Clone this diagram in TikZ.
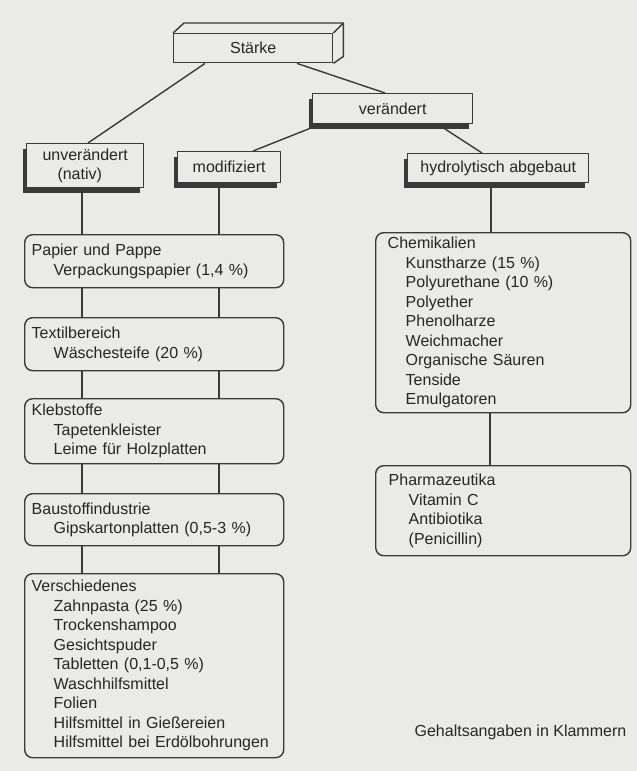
\documentclass[tikz,border=0pt]{standalone}
\usepackage{fontspec}
\setmainfont{Liberation Sans}
\usetikzlibrary{calc,shadows}
\definecolor{bg}{RGB}{234,234,230}
\definecolor{ink}{RGB}{58,58,58}
\definecolor{txt}{RGB}{38,38,38}
\newcommand\myind{\hspace*{22pt}}
\newcommand\myindb{\hspace*{18pt}}
\begin{document}
\begin{tikzpicture}[x=1pt,y=-1pt,
  font=\fontsize{16pt}{19.5pt}\selectfont,
  line width=1.4pt, line join=round,
  topbox/.style={draw=ink, fill=bg, text=txt, inner sep=0pt, anchor=north west},
  shadowed/.style={drop shadow={shadow xshift=-4pt, shadow yshift=-5pt, fill=ink, opacity=1}},
  cbox/.style={draw=ink, fill=bg, text=txt, rounded corners=8pt, anchor=north west,
    align=left, inner ysep=0pt},
  conn/.style={draw=ink}]
\fill[bg] (0,0) rectangle (637,771);
\useasboundingbox (0,0) rectangle (637,771);

% top boxes
\node[topbox, minimum width=159pt, minimum height=29pt] (st) at (173,33) {Stärke};
\draw[ink] (st.north west) -- ++(11,-10) -- ($(st.north east)+(10,-10)$)
  -- ($(st.south east)+(10,-7)$) -- (st.south east);
\draw[ink] (st.north east) -- ++(10,-10);

\node[topbox, shadowed, minimum width=160pt, minimum height=30pt] (ver) at (312,93) {verändert};
\node[topbox, shadowed, minimum width=117pt, minimum height=44pt, align=left] (unv) at (26,143)
  {unverändert\\\hspace*{15pt}(nativ)};
\node[topbox, shadowed, minimum width=103pt, minimum height=31pt] (mod) at (177,151) {modifiziert};
\node[topbox, shadowed, minimum width=181pt, minimum height=29pt] (hyd) at (407,153) {hydrolytisch abgebaut};

% content boxes left
\node[cbox, inner xsep=7pt, text width=245pt, minimum height=53pt] (pap) at (24,234)
  {Papier und Pappe\\\myind Verpackungspapier (1,4~\%)};
\node[cbox, inner xsep=7pt, text width=245pt, minimum height=53pt] (tex) at (24,317)
  {Textilbereich\\\myind Wäschesteife (20~\%)};
\node[cbox, inner xsep=7pt, text width=245pt, minimum height=65pt] (kle) at (24,398)
  {Klebstoffe\\\myind Tapetenkleister\\\myind Leime für Holzplatten};
\node[cbox, inner xsep=7pt, text width=245pt, minimum height=52pt] (bau) at (24,493)
  {Baustoffindustrie\\\myind Gipskartonplatten (0,5-3~\%)};
\node[cbox, inner xsep=7pt, text width=245pt, minimum height=184pt] (vsch) at (24,573)
  {Verschiedenes\\\myind Zahnpasta (25~\%)\\\myind Trockenshampoo\\\myind Gesichtspuder\\
   \myind Tabletten (0,1-0,5~\%)\\\myind Waschhilfsmittel\\\myind Folien\\
   \myind Hilfsmittel in Gießereien\\\myind Hilfsmittel bei Erdölbohrungen};

% content boxes right
\node[cbox, inner xsep=12pt, text width=231pt, minimum height=180pt] (chem) at (375,232)
  {Chemikalien\\\myindb Kunstharze (15~\%)\\\myindb Polyurethane (10~\%)\\\myindb Polyether\\
   \myindb Phenolharze\\\myindb Weichmacher\\\myindb Organische Säuren\\\myindb Tenside\\
   \myindb Emulgatoren};
\node[cbox, inner xsep=13pt, text width=229pt, minimum height=90pt] (pha) at (375,465)
  {Pharmazeutika\\\hspace*{20pt}Vitamin C\\\hspace*{20pt}Antibiotika\\\hspace*{20pt}(Penicillin)};

\node[text=txt, anchor=base east, inner sep=0pt] (note) at (627,736) {Gehaltsangaben in Klammern};

% connectors
\draw[conn] ($(st.south west)+(32,0)$) -- ($(unv.north west)+(62,0)$);
\draw[conn] ($(st.south west)+(124,0)$) -- ($(ver.north west)+(73,0)$);
\draw[conn] ($(ver.south west)+(8,0)$) -- ($(mod.north west)+(76,0)$);
\draw[conn] ($(ver.south west)+(126,0)$) -- ($(hyd.north west)+(75,0)$);
\draw[conn] ($(unv.south west)+(56,5)$) -- ($(pap.north west)+(58,0)$);
\draw[conn] ($(mod.south west)+(42,0)$) -- ($(pap.north west)+(195,0)$);
\foreach \a/\b in {pap/tex, tex/kle, kle/bau, bau/vsch}{
  \draw[conn] ($(\a.south west)+(58,0)$) -- ($(\b.north west)+(58,0)$);
  \draw[conn] ($(\a.south west)+(195,0)$) -- ($(\b.north west)+(195,0)$);
}
\draw[conn] ($(hyd.south west)+(84,0)$) -- ($(chem.north west)+(116,0)$);
\draw[conn] ($(chem.south west)+(115,0)$) -- ($(pha.north west)+(115,0)$);
\end{tikzpicture}
\end{document}
